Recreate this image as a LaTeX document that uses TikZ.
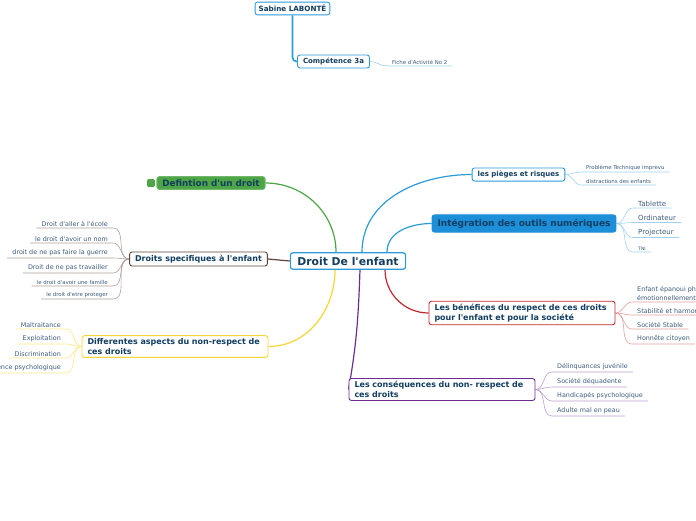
\documentclass[tikz,border=0pt]{standalone}
\usepackage{fontspec}
\setmainfont{DejaVu Sans}
\usetikzlibrary{backgrounds}

\definecolor{mapblue}{HTML}{2B9AD8}
\definecolor{mapfill}{HTML}{1C8FD8}
\definecolor{navy}{HTML}{113E62}
\definecolor{leaftxt}{HTML}{3C5C7C}
\definecolor{mapgreen}{HTML}{4EA546}
\definecolor{mapred}{HTML}{C3272F}
\definecolor{mappurple}{HTML}{6C2D91}
\definecolor{mapyellow}{HTML}{F7D633}
\definecolor{mapbrown}{HTML}{5E4438}

\newcommand{\apos}{\textquotesingle}

\begin{document}
\begin{tikzpicture}
	[x=1pt,y=-1pt,
		topic/.style={rounded corners=2.5pt,draw,fill=white,line width=0.9pt,text=navy,
			font=\bfseries\fontsize{8}{9.5}\selectfont,inner xsep=5.5pt,inner ysep=3pt},
		twoline/.style={topic,text width=175pt,align=left},
		leaf/.style={text=leaftxt,font=\fontsize{6.4}{8.5}\selectfont,inner xsep=5pt,inner ysep=1.5pt,anchor=south west},
		leftleaf/.style={leaf,anchor=south east},
		small/.style={font=\fontsize{5.4}{6.5}\selectfont},
		branch/.style={line width=1.2pt},
		twig/.style={line width=0.6pt}]

	\useasboundingbox (0,0) rectangle (696,520);
	\clip (0,0) rectangle (696,520);

	% centre and top
	\node[topic,draw=mapblue,line width=1.2pt,font=\bfseries\fontsize{10.8}{12}\selectfont,inner xsep=7pt,inner ysep=4pt] (root) at (348,261) {Droit De l\apos enfant};
	\node[topic,draw=mapblue,font=\bfseries\fontsize{7.2}{8}\selectfont,inner xsep=3.5pt,inner ysep=3pt] (sabine) at (292.5,8.5) {Sabine LABONTÉ};
	\node[topic,draw=mapblue,font=\bfseries\fontsize{7}{8}\selectfont] (comp) at (333.5,61.5) {Compétence 3a};
	\node[leaf,small] (fiche) at (387,66) {Fiche d\apos Activité No 2};

	% right side
	\node[topic,draw=mapblue,font=\bfseries\fontsize{7}{8}\selectfont] (pieges) at (518.5,174.5) {les pièges et risques};
	\node[topic,draw=mapfill,fill=mapfill,font=\bfseries\fontsize{9}{10}\selectfont,inner ysep=4pt] (integ) at (524,223.5) {Intégration des outils numériques};
	\node[twoline,draw=mapred] (benef) at (522,313) {Les bénéfices du respect de ces droits\\pour l\apos enfant et pour la société};
	\node[twoline,draw=mappurple] (conseq) at (442,389.5) {Les conséquences du non- respect de\\ces droits};

	% left side
	\node[topic,draw=mapgreen!80,fill=mapgreen,font=\bfseries\fontsize{8.8}{10}\selectfont] (defin) at (211,183) {Defintion d\apos un droit};
	\node[fill=mapgreen,rounded corners=1.5pt,minimum size=8pt,inner sep=0pt,text=black!45,font=\bfseries\fontsize{4}{4}\selectfont] (defmark) at (151,183) {!};
	\node[topic,draw=mapbrown] (drspec) at (198.5,259) {Droits specifiques à l\apos enfant};
	\node[twoline,draw=mapyellow] (diff) at (175,346.5) {Differentes aspects du non-respect de\\ces droits};

	% leaves
	\node[leaf,small] (p1) at (581,172) {Problème Technique imprevu};
	\node[leaf,small] (p2) at (581,185) {distractions des enfants};

	\node[leaf,font=\fontsize{7}{8}\selectfont] (t1) at (633,208) {Tablette};
	\node[leaf,font=\fontsize{7}{8}\selectfont] (t2) at (633,222.5) {Ordinateur};
	\node[leaf,font=\fontsize{7}{8}\selectfont] (t3) at (633,237.5) {Projecteur};
	\node[leaf,font=\fontsize{4.6}{5}\selectfont] (t4) at (633,252) {TNI};

	\node[leaf,align=left] (b1) at (632,302) {Enfant épanoui physiquement et\\émotionnellement};
	\node[leaf] (b2) at (632,315) {Stabilité et harmonie};
	\node[leaf] (b3) at (632,329) {Société Stable};
	\node[leaf] (b4) at (632,344) {Honnête citoyen};

	\node[leaf] (c1) at (552,372) {Délinquances juvénile};
	\node[leaf] (c2) at (552,387) {Société déquadente};
	\node[leaf] (c3) at (552,401) {Handicapés psychologique};
	\node[leaf] (c4) at (552,416) {Adulte mal en peau};

	\node[leftleaf] (d1) at (113,228) {Droit d\apos aller à l\apos école};
	\node[leftleaf] (d2) at (113,243) {le droit d\apos avoir un nom};
	\node[leftleaf] (d3) at (113,258) {droit de ne pas faire la guerre};
	\node[leftleaf] (d4) at (113,273) {Droit de ne pas travailler};
	\node[leftleaf,small] (d5) at (113,286) {le droit d\apos avoir une famille};
	\node[leftleaf,small] (d6) at (113,299) {le droit d\apos etre proteger};

	\node[leftleaf] (f1) at (66,329) {Maltraitance};
	\node[leftleaf] (f2) at (66,344) {Exploitation};
	\node[leftleaf] (f3) at (66,358) {Discrimination};
	\node[leftleaf] (f4) at (66,373) {Violence psychologique};

	\begin{pgfonlayer}{background}
		\draw[mapblue,line width=1.6pt,rounded corners=4pt] (sabine.south) |- (comp.west);
		\draw[twig,mapblue!45] (comp.east) to[out=0,in=180] (fiche.south west) -- (fiche.south east);

		\draw[branch,mapgreen] (defin.east) to[out=0,in=90] ([xshift=-12pt]root.north);
		\draw[branch,mapblue] ([xshift=14pt]root.north) to[out=90,in=180] (pieges.west);
		\draw[branch,mapblue] ([xshift=39pt]root.north) to[out=90,in=180] (integ.west);
		\draw[branch,mapred] ([xshift=37pt]root.south) to[out=-90,in=180] (benef.west);
		\draw[branch,mappurple] ([xshift=12pt]root.south) to[out=-92,in=80] (conseq.west);
		\draw[branch,mapyellow] ([xshift=-13pt]root.south) to[out=-90,in=0] (diff.east);
		\draw[branch,mapbrown] (root.west) -- (drspec.east);

		\draw[twig,mapblue!45] (pieges.east) to[out=0,in=180] (p1.south west) -- (p1.south east);
		\draw[twig,mapblue!45] (pieges.east) to[out=0,in=180] (p2.south west) -- (p2.south east);

		\draw[twig,mapblue!45] (integ.east) to[out=0,in=180] (t1.south west) -- (t1.south east);
		\draw[twig,mapblue!45] (integ.east) to[out=0,in=180] (t2.south west) -- (t2.south east);
		\draw[twig,mapblue!45] (integ.east) to[out=0,in=180] (t3.south west) -- (t3.south east);
		\draw[twig,mapblue!45] (integ.east) to[out=0,in=180] (t4.south west) -- (t4.south east);

		\draw[twig,mapred!45] (benef.east) to[out=0,in=180] (b1.south west) -- (b1.south east);
		\draw[twig,mapred!45] (benef.east) to[out=0,in=180] (b2.south west) -- (b2.south east);
		\draw[twig,mapred!45] (benef.east) to[out=0,in=180] (b3.south west) -- (b3.south east);
		\draw[twig,mapred!45] (benef.east) to[out=0,in=180] (b4.south west) -- (b4.south east);

		\draw[twig,mappurple!45] (conseq.east) to[out=0,in=180] (c1.south west) -- (c1.south east);
		\draw[twig,mappurple!45] (conseq.east) to[out=0,in=180] (c2.south west) -- (c2.south east);
		\draw[twig,mappurple!45] (conseq.east) to[out=0,in=180] (c3.south west) -- (c3.south east);
		\draw[twig,mappurple!45] (conseq.east) to[out=0,in=180] (c4.south west) -- (c4.south east);

		\draw[twig,mapbrown!50] (drspec.west) to[out=180,in=0] (d1.south east) -- (d1.south west);
		\draw[twig,mapbrown!50] (drspec.west) to[out=180,in=0] (d2.south east) -- (d2.south west);
		\draw[twig,mapbrown!50] (drspec.west) to[out=180,in=0] (d3.south east) -- (d3.south west);
		\draw[twig,mapbrown!50] (drspec.west) to[out=180,in=0] (d4.south east) -- (d4.south west);
		\draw[twig,mapbrown!50] (drspec.west) to[out=180,in=0] (d5.south east) -- (d5.south west);
		\draw[twig,mapbrown!50] (drspec.west) to[out=180,in=0] (d6.south east) -- (d6.south west);

		\draw[twig,mapyellow!60] (diff.west) to[out=180,in=0] (f1.south east) -- (f1.south west);
		\draw[twig,mapyellow!60] (diff.west) to[out=180,in=0] (f2.south east) -- (f2.south west);
		\draw[twig,mapyellow!60] (diff.west) to[out=180,in=0] (f3.south east) -- (f3.south west);
		\draw[twig,mapyellow!60] (diff.west) to[out=180,in=0] (f4.south east) -- (f4.south west);
	\end{pgfonlayer}

\end{tikzpicture}
\end{document}
